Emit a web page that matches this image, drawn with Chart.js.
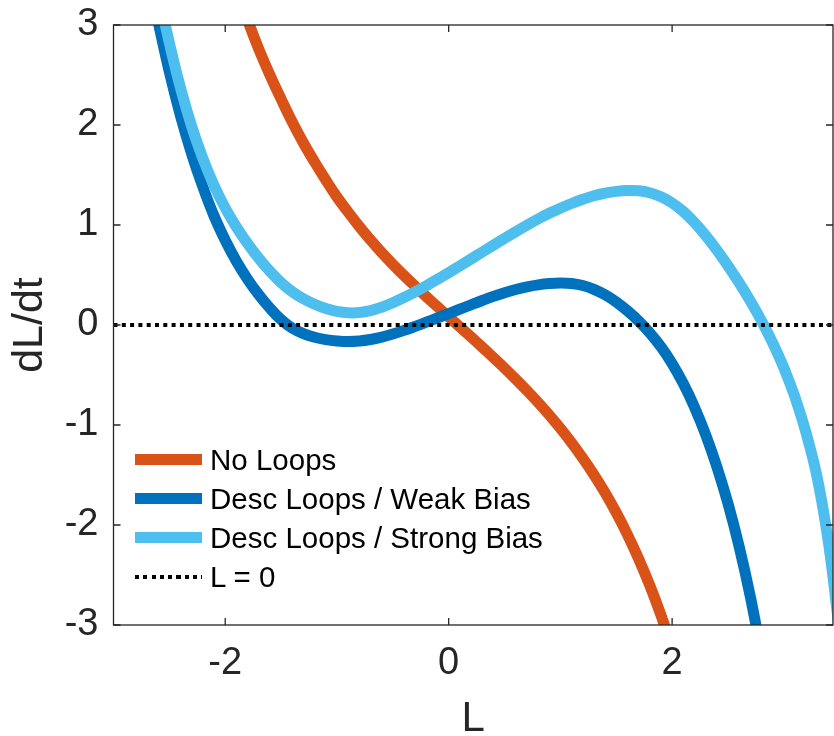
<!DOCTYPE html>
<html>
<head>
<meta charset="utf-8">
<script src="https://cdn.jsdelivr.net/npm/chart.js@4/dist/chart.umd.min.js"></script>
<style>
  html, body { margin: 0; padding: 0; background: #fff; }
  #wrap { position: relative; width: 834px; height: 736px; }
  #legend { position: absolute; left: 135px; top: 440px; font-family: 'Liberation Sans', Arial, sans-serif; font-size: 29.5px; color: #000; }
  #legend .row { display: flex; align-items: center; height: 39px; white-space: nowrap; }
  #legend .sw { width: 67px; margin-right: 8px; }
</style>
</head>
<body>
<div id="wrap">
  <canvas id="c" width="834" height="736"></canvas>
  <div id="legend"></div>
</div>
<script>
// ── datos ──────────────────────────────────────────────
const xTicks = [-2, 0, 2];
const yTicks = [-3, -2, -1, 0, 1, 2, 3];

const noLoopsL = [-1.9, -1.8, -1.7, -1.6, -1.5, -1.4, -1.3, -1.2, -1.1, -1.0, -0.9, -0.8, -0.7, -0.6, -0.5, -0.4, -0.3, -0.2, -0.1, 0.0,
                  0.1, 0.2, 0.3, 0.4, 0.5, 0.6, 0.7, 0.8, 0.9, 1.0, 1.1, 1.2, 1.3, 1.4, 1.5, 1.6, 1.7, 1.8, 1.9, 2.0];
const noLoopsY = [3.35, 3.05, 2.76, 2.5, 2.26, 2.03, 1.82, 1.63, 1.45, 1.28, 1.13, 0.985, 0.851, 0.725, 0.607, 0.495, 0.388, 0.284, 0.182, 0.082,
                  -0.018, -0.119, -0.221, -0.325, -0.431, -0.541, -0.655, -0.774, -0.9, -1.034, -1.177, -1.331, -1.497, -1.678, -1.877, -2.096, -2.337, -2.604, -2.901, -3.231];

const weakL = [-2.65, -2.6, -2.5, -2.4, -2.3, -2.2, -2.1, -2.0, -1.9, -1.8, -1.7, -1.6, -1.5, -1.4, -1.3, -1.2, -1.1, -1.0, -0.9, -0.8,
               -0.7, -0.6, -0.5, -0.4, -0.3, -0.2, -0.1, 0.0, 0.1, 0.2, 0.3, 0.4, 0.5, 0.6, 0.7, 0.8, 0.9, 1.0, 1.1, 1.2,
               1.3, 1.4, 1.5, 1.6, 1.7, 1.8, 1.9, 2.0, 2.1, 2.2, 2.3, 2.4, 2.5, 2.6, 2.7, 2.8];
const weakY = [3.3, 3.03, 2.53, 2.09, 1.71, 1.38, 1.09, 0.848, 0.638, 0.458, 0.303, 0.168, 0.053, -0.032, -0.087, -0.123, -0.146, -0.159, -0.165, -0.16,
               -0.145, -0.121, -0.09, -0.054, -0.014, 0.028, 0.071, 0.114, 0.158, 0.202, 0.245, 0.286, 0.323, 0.355, 0.381, 0.401, 0.414, 0.42, 0.415, 0.395,
               0.357, 0.302, 0.23, 0.142, 0.04, -0.078, -0.218, -0.386, -0.586, -0.821, -1.096, -1.416, -1.786, -2.216, -2.716, -3.296];

const strongL = [-2.6, -2.5, -2.4, -2.3, -2.2, -2.1, -2.0, -1.9, -1.8, -1.7, -1.6, -1.5, -1.4, -1.3, -1.2, -1.1, -1.0, -0.9, -0.8, -0.7,
                 -0.6, -0.5, -0.4, -0.3, -0.2, -0.1, 0.0, 0.1, 0.2, 0.3, 0.4, 0.5, 0.6, 0.7, 0.8, 0.9, 1.0, 1.1, 1.2, 1.3,
                 1.4, 1.5, 1.6, 1.7, 1.8, 1.9, 2.0, 2.1, 2.2, 2.3, 2.4, 2.5, 2.6, 2.7, 2.8, 2.9, 3.0, 3.1, 3.2, 3.3,
                 3.4, 3.5];
const strongY = [3.33, 2.82, 2.37, 1.985, 1.665, 1.395, 1.17, 0.98, 0.815, 0.668, 0.537, 0.424, 0.333, 0.262, 0.207, 0.165, 0.136, 0.122, 0.124, 0.143,
                 0.178, 0.223, 0.275, 0.332, 0.393, 0.457, 0.523, 0.591, 0.66, 0.729, 0.798, 0.866, 0.933, 0.998, 1.06, 1.117, 1.168, 1.215, 1.257, 1.293,
                 1.318, 1.336, 1.345, 1.342, 1.322, 1.282, 1.22, 1.135, 1.025, 0.895, 0.75, 0.592, 0.422, 0.24, 0.042, -0.178, -0.428, -0.723, -1.083, -1.533,
                 -2.183, -3.08];

const zeroL = [-3, 3.44];
const zeroY = [0, 0];

const AX = '#262626';
const pts = (xs, ys) => xs.map((x, i) => ({x, y: ys[i]}));

Chart.defaults.font.family = "'Liberation Sans', Arial, sans-serif";
Chart.defaults.color = AX;

// Caja estilo MATLAB con ticks hacia adentro
const boxFrame = {
  id: 'boxFrame',
  afterDraw(chart) {
    const {ctx, chartArea: a, scales: {x, y}} = chart;
    const tl = 7;
    ctx.save();
    ctx.strokeStyle = AX;
    ctx.lineWidth = 1.3;
    ctx.strokeRect(a.left, a.top, a.right - a.left, a.bottom - a.top);
    ctx.beginPath();
    x.ticks.forEach(t => {
      const px = x.getPixelForValue(t.value);
      ctx.moveTo(px, a.bottom); ctx.lineTo(px, a.bottom - tl);
      ctx.moveTo(px, a.top);    ctx.lineTo(px, a.top + tl);
    });
    y.ticks.forEach(t => {
      const py = y.getPixelForValue(t.value);
      ctx.moveTo(a.left, py);  ctx.lineTo(a.left + tl, py);
      ctx.moveTo(a.right, py); ctx.lineTo(a.right - tl, py);
    });
    ctx.stroke();
    ctx.restore();
  },
};

// Leyenda HTML dentro del área, sin caja
const htmlLegend = {
  id: 'htmlLegend',
  afterUpdate(chart) {
    const box = document.getElementById('legend');
    box.innerHTML = '';
    chart.data.datasets.forEach(ds => {
      const row = document.createElement('div');
      row.className = 'row';
      const sw = document.createElement('div');
      sw.className = 'sw';
      if (ds.borderDash && ds.borderDash.length) {
        sw.style.height = '4px';
        sw.style.background = 'repeating-linear-gradient(90deg, #000 0 4px, transparent 4px 8.3px)';
      } else {
        sw.style.height = '11px';
        sw.style.background = ds.borderColor;
      }
      const tx = document.createElement('span');
      tx.textContent = ds.label;
      row.appendChild(sw);
      row.appendChild(tx);
      box.appendChild(row);
    });
  },
};

const lineDs = (label, data, color, order) => ({
  label, data, order,
  borderColor: color,
  backgroundColor: color,
  borderWidth: 11,
  pointRadius: 0,
  tension: 0.4,
  clip: 0,
});

new Chart(document.getElementById('c'), {
  type: 'line',
  data: {
    datasets: [
      lineDs('No Loops', pts(noLoopsL, noLoopsY), '#D95319', 3),
      lineDs('Desc Loops / Weak Bias', pts(weakL, weakY), '#0072BD', 2),
      lineDs('Desc Loops / Strong Bias', pts(strongL, strongY), '#4DBEEE', 1),
      {
        label: 'L = 0',
        data: pts(zeroL, zeroY),
        order: 0,
        borderColor: '#000',
        borderWidth: 4,
        borderDash: [4, 4.3],
        borderCapStyle: 'butt',
        pointRadius: 0,
        clip: 0,
      },
    ],
  },
  options: {
    responsive: false,
    animation: false,
    devicePixelRatio: 1,
    layout: {padding: {top: 25, right: 1, left: 0, bottom: 0}},
    plugins: {
      legend: {display: false},
      tooltip: {enabled: false},
    },
    scales: {
      x: {
        type: 'linear',
        min: -3,
        max: 3.44,
        afterBuildTicks: s => { s.ticks = xTicks.map(v => ({value: v})); },
        afterFit: s => { s.height = 111; s.paddingLeft = 0; s.paddingRight = 0; },
        grid: {display: false, drawTicks: false},
        border: {display: false},
        ticks: {font: {size: 38}, color: AX, padding: 16, maxRotation: 0},
        title: {display: true, text: 'L', color: AX, font: {size: 42, lineHeight: 0.8}, padding: {top: 0, bottom: 0}},
      },
      y: {
        min: -3,
        max: 3,
        afterBuildTicks: s => { s.ticks = yTicks.map(v => ({value: v})); },
        afterFit: s => { s.width = 113.5; s.paddingTop = 0; s.paddingBottom = 0; },
        grid: {display: false, drawTicks: false},
        border: {display: false},
        ticks: {font: {size: 38}, color: AX, padding: 15},
        title: {display: true, text: 'dL/dt', color: AX, font: {size: 43, lineHeight: 1}, padding: {top: 9, bottom: 0}},
      },
    },
  },
  plugins: [boxFrame, htmlLegend],
});
</script>
</body>
</html>
